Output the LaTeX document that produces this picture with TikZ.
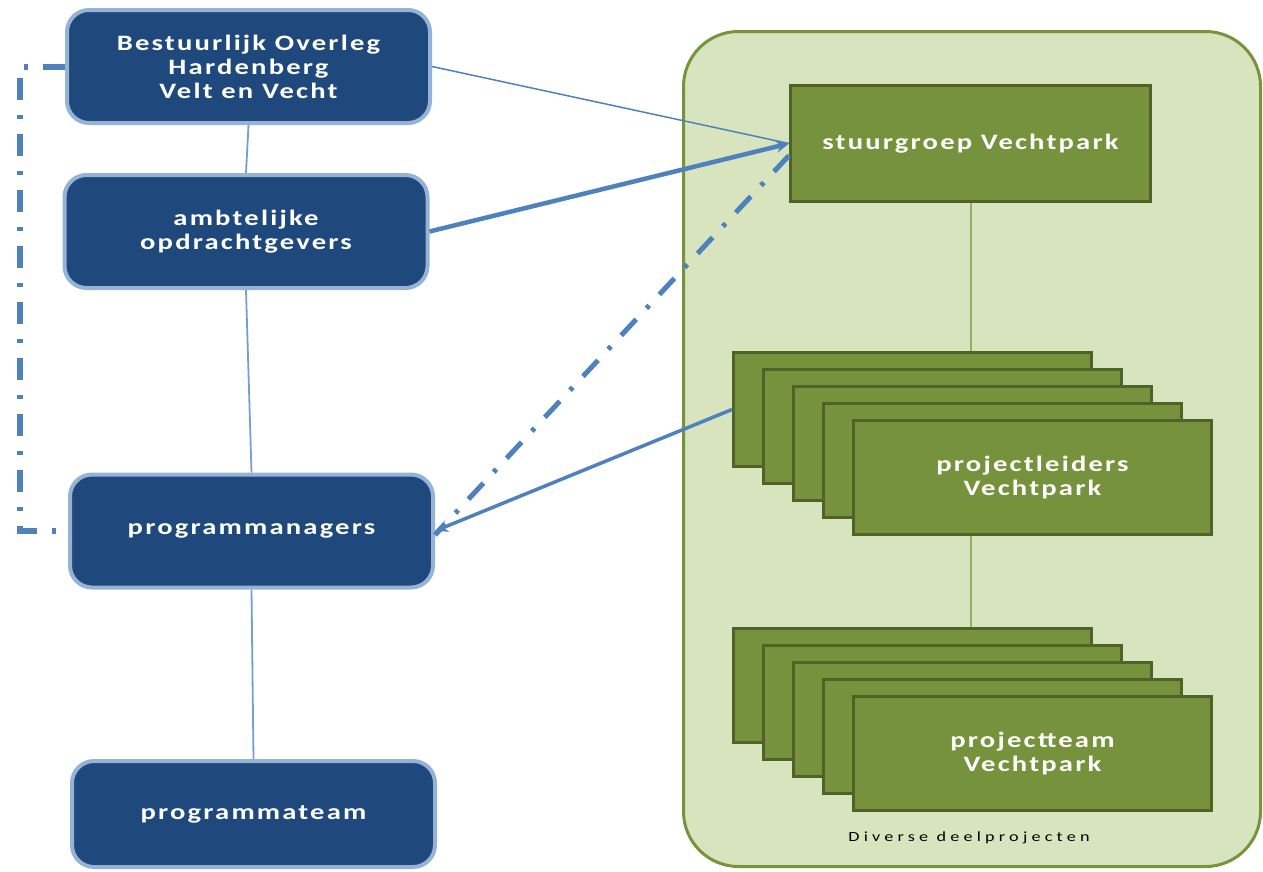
\documentclass[tikz,border=0pt]{standalone}
\usepackage{fontspec}
\setmainfont{Carlito}
\newfontfamily\boxfont[LetterSpace=10, FakeStretch=1.3]{Carlito}
\newfontfamily\notefont[LetterSpace=30, FakeStretch=1.3]{Carlito}
\usetikzlibrary{arrows.meta}

\definecolor{boxblue}{RGB}{31,73,125}
\definecolor{edgeblue}{RGB}{149,179,215}
\definecolor{linkblue}{RGB}{79,129,189}
\definecolor{thinblue}{RGB}{118,158,208}
\definecolor{areagreen}{RGB}{216,228,190}
\definecolor{areaedge}{RGB}{119,147,60}
\definecolor{projgreen}{RGB}{118,146,60}
\definecolor{projedge}{RGB}{79,98,40}
\definecolor{linkgreen}{RGB}{145,178,95}

\begin{document}
\begin{tikzpicture}[x=1pt, y=-1pt,
    org/.style={rounded corners=22pt, fill=boxblue, draw=edgeblue, line width=4pt,
        minimum width=363pt, minimum height=113pt, inner sep=0pt,
        text=white, align=center, font=\boxfont\bfseries\fontsize{22}{24}\selectfont},
    proj/.style={fill=projgreen, draw=projedge, line width=3pt,
        minimum width=358pt, minimum height=114pt, inner sep=0pt,
        text=white, align=center, font=\boxfont\bfseries\fontsize{22}{24}\selectfont},
    area/.style={rounded corners=55pt, fill=areagreen, draw=areaedge, line width=3pt,
        minimum width=577pt, minimum height=835pt},
    tree/.style={thinblue, line width=1.8pt},
    leaf/.style={linkgreen, line width=2pt},
    link/.style={linkblue, line width=1.5pt},
    arr/.style={linkblue, line width=4.5pt, -{Stealth[length=13pt, width=12pt]}},
    dashdot/.style={linkblue, line width=5pt,
        dash pattern=on 22pt off 15pt on 4pt off 15pt}
]
\useasboundingbox (0,0) rectangle (1263,871);

% =========================
% Vechtpark area
% =========================
\node[area] (vp) at (972,449) {};
\node[font=\notefont\fontsize{14}{16}\selectfont] (note) at (969,838) {Diverse deelprojecten};

\node[proj, minimum width=360pt, minimum height=116pt] (stu) at (970.5,143.5)
    {stuurgroep Vechtpark};

% projectleiders (stack)
\foreach \i in {0,...,3}
    \node[proj] (pl\i) at ({912.5+30*\i},{409.5+17*\i}) {};
\node[proj] (pl4) at (1032.5,477.5) {projectleiders\\Vechtpark};

% projectteams (stack)
\foreach \i in {0,...,3}
    \node[proj] (pt\i) at ({912.5+30*\i},{685.5+17*\i}) {};
\node[proj] (pt4) at (1032.5,753.5) {projectteam\\Vechtpark};

\draw[leaf] (stu.south) -- (stu.south |- pl0.north);
\draw[leaf] (stu.south |- pl4.south) -- (stu.south |- pt0.north);

% =========================
% Gemeenten
% =========================
\node[org] (bo) at (248.5,66.5) {Bestuurlijk Overleg\\Hardenberg\\Velt en Vecht};
\node[org] (ao) at (246,231.5) {ambtelijke\\opdrachtgevers};
\node[org] (pm) at (251.5,531) {programmanagers};
\node[org, minimum height=106pt] (pteam) at (253.5,814) {programmateam};

\draw[tree] (bo.south) -- (ao.north);
\draw[tree] (ao.south) -- (pm.north);
\draw[tree] (pm.south) -- (pteam.north);

% left loop
\coordinate (lt) at (20,66.5);
\coordinate (lb) at (20,531);
\draw[dashdot, line width=6pt] (bo.west) -- (lt) -- (lb) -- (pm.west);

% links to the area
\draw[link] (bo.east) -- (stu.west);
\draw[arr] (ao.east) -- (stu.west);
\draw[dashdot] ([yshift=-12pt]stu.west) -- ([yshift=-4pt]pm.east);
\draw[arr, line width=3.5pt] (pl0.west) -- (pm.east);

\end{tikzpicture}
\end{document}
